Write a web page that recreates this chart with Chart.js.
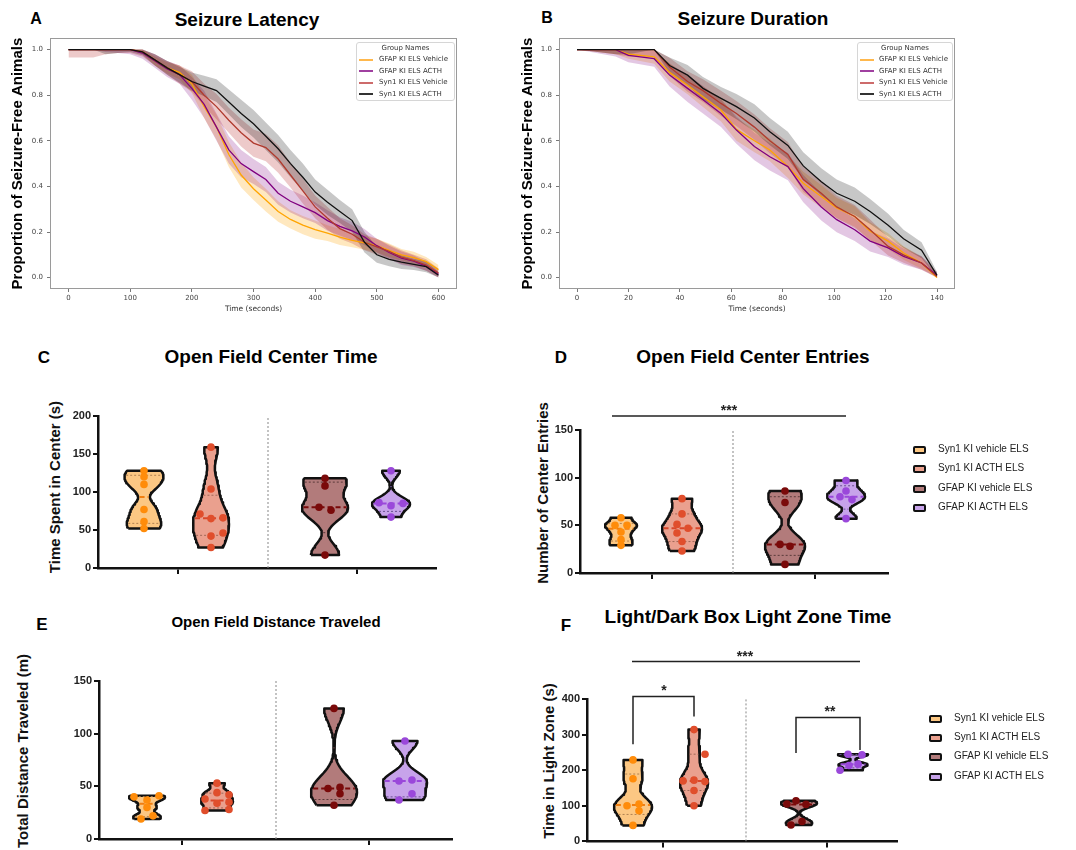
<!DOCTYPE html>
<html>
<head>
<meta charset="utf-8">
<title>Seizure and behaviour panels</title>
<script src="https://cdn.jsdelivr.net/npm/chart.js@4.4.1/dist/chart.umd.min.js"></script>
<style>
html,body{margin:0;padding:0;background:#fff;}
body{width:1076px;height:850px;position:relative;overflow:hidden;font-family:'Liberation Sans',Arial,sans-serif;}
canvas{position:absolute;}
.tx{position:absolute;transform:translate(-50%,-50%);white-space:nowrap;line-height:1;font-weight:bold;color:#000;}
.yl{position:absolute;transform:translate(-50%,-50%) rotate(-90deg);white-space:nowrap;line-height:1;font-weight:bold;color:#111;font-size:15px;}
.slg{position:absolute;background:#fff;border:1px solid #d6d6d6;border-radius:3px;font-family:'DejaVu Sans',sans-serif;font-size:7px;color:#333;}
.slg div{position:absolute;white-space:nowrap;line-height:1;}
.slg .ln{height:2px;width:14px;}
.vlg{position:absolute;font-family:'Liberation Sans',Arial,sans-serif;font-size:10px;color:#222;}
.vlg div{position:absolute;white-space:nowrap;line-height:1;}
.vlg .bx{width:9px;height:4px;border:2px solid #111;border-radius:2px;}
</style>
</head>
<body>
<div class="tx" style="left:36px;top:19px;font-size:16px">A</div>
<div class="tx" style="left:247px;top:19px;font-size:19px">Seizure Latency</div>
<div class="tx" style="left:547px;top:18px;font-size:16px">B</div>
<div class="tx" style="left:753px;top:18px;font-size:19px">Seizure Duration</div>
<div class="tx" style="left:44px;top:357px;font-size:17px">C</div>
<div class="tx" style="left:271px;top:356px;font-size:19px">Open Field Center Time</div>
<div class="tx" style="left:561px;top:357px;font-size:17px">D</div>
<div class="tx" style="left:753px;top:356px;font-size:19px">Open Field Center Entries</div>
<div class="tx" style="left:42px;top:624px;font-size:17px">E</div>
<div class="tx" style="left:276px;top:621px;font-size:15px">Open Field Distance Traveled</div>
<div class="tx" style="left:566px;top:625px;font-size:17px">F</div>
<div class="tx" style="left:748px;top:616px;font-size:19px">Light/Dark Box Light Zone Time</div>

<div class="yl" style="left:54px;top:487px">Time Spent in Center (s)</div>
<div class="yl" style="left:542px;top:493px">Number of Center Entries</div>
<div class="yl" style="left:22px;top:751px">Total Distance Traveled (m)</div>
<div class="yl" style="left:548px;top:761px">Time in Light Zone (s)</div>

<canvas id="cA" width="470" height="290" style="left:0;top:30px"></canvas>
<canvas id="cB" width="445" height="290" style="left:515px;top:30px"></canvas>
<canvas id="cC" width="520" height="190" style="left:0;top:400px"></canvas>
<canvas id="cD" width="556" height="190" style="left:520px;top:400px"></canvas>
<canvas id="cE" width="520" height="190" style="left:0;top:660px"></canvas>
<canvas id="cF" width="556" height="210" style="left:520px;top:640px"></canvas>

<div id="lgA" class="slg" style="left:356px;top:42px;width:97px;height:57px"></div>
<div id="lgB" class="slg" style="left:857px;top:42px;width:94px;height:57px"></div>
<div id="lgD" class="vlg" style="left:913px;top:443px;width:160px;height:80px"></div>
<div id="lgF" class="vlg" style="left:929px;top:712px;width:147px;height:80px"></div>

<script>
// ---------------- DATA ----------------
// Survival panels (A, B)
const survNames = ['GFAP KI ELS Vehicle','GFAP KI ELS ACTH','Syn1 KI ELS Vehicle','Syn1 KI ELS ACTH'];

const latTime    = [0,20,40,60,80,100,120,140,160,180,200,220,240,260,280,300,320,340,360,380,400,420,440,460,480,500,520,540,560,580,600];
const latGfapVeh = [1,1,1,1,1,1,0.99,0.95,0.92,0.90,0.85,0.75,0.66,0.54,0.45,0.39,0.34,0.29,0.255,0.23,0.21,0.195,0.178,0.163,0.152,0.14,0.12,0.10,0.088,0.07,0.035];
const latGfapAct = [1,1,1,1,1,1,0.985,0.95,0.915,0.89,0.83,0.76,0.66,0.56,0.50,0.465,0.43,0.37,0.335,0.31,0.285,0.25,0.225,0.205,0.178,0.14,0.11,0.085,0.072,0.05,0.015];
const latSynVeh  = [1,1,1,1,1,1,0.99,0.955,0.92,0.89,0.86,0.80,0.75,0.69,0.635,0.59,0.57,0.52,0.45,0.38,0.31,0.26,0.215,0.19,0.155,0.135,0.115,0.09,0.075,0.055,0.02];
const latSynAct  = [1,1,1,1,1,1,0.99,0.955,0.92,0.89,0.86,0.84,0.82,0.77,0.72,0.675,0.62,0.565,0.50,0.44,0.375,0.33,0.29,0.25,0.155,0.10,0.08,0.068,0.058,0.048,0.01];
// half width of the confidence band
const latCiGfapVeh = [0,0,0,0,0,0,0.01,0.02,0.025,0.03,0.04,0.05,0.055,0.055,0.055,0.05,0.05,0.045,0.04,0.04,0.04,0.035,0.035,0.03,0.03,0.03,0.03,0.025,0.025,0.02,0.02];
const latCiGfapAct = [0,0,0,0.01,0.015,0.02,0.025,0.03,0.035,0.04,0.05,0.06,0.06,0.06,0.06,0.055,0.055,0.05,0.05,0.05,0.045,0.045,0.04,0.04,0.035,0.03,0.03,0.03,0.025,0.02,0.02];
const latCiSynVeh  = [0.035,0.035,0.035,0.02,0.015,0.015,0.02,0.025,0.03,0.04,0.045,0.05,0.055,0.055,0.06,0.06,0.06,0.06,0.055,0.055,0.05,0.05,0.045,0.04,0.035,0.035,0.03,0.03,0.025,0.025,0.02];
const latCiSynAct  = [0,0,0,0.02,0.015,0.01,0.015,0.025,0.03,0.035,0.04,0.045,0.05,0.055,0.06,0.06,0.06,0.06,0.06,0.06,0.055,0.055,0.05,0.05,0.045,0.035,0.03,0.03,0.025,0.025,0.015];
const latXTicks = [0,100,200,300,400,500,600];

const durTime    = [0,15,20,30,36,43,49,56,62,69,75,82,88,95,101,108,114,121,127,134,140];
const durGfapVeh = [1,1,0.98,0.968,0.90,0.844,0.793,0.735,0.65,0.60,0.56,0.487,0.414,0.356,0.305,0.268,0.203,0.16,0.108,0.064,0.0];
const durGfapAct = [1,1,0.975,0.96,0.888,0.83,0.78,0.72,0.647,0.575,0.53,0.487,0.39,0.31,0.254,0.21,0.16,0.13,0.093,0.064,0.01];
const durSynVeh  = [1,1,1,1,0.924,0.86,0.82,0.764,0.72,0.66,0.60,0.54,0.43,0.37,0.31,0.268,0.21,0.137,0.10,0.064,0.005];
const durSynAct  = [1,1,1,1,0.93,0.888,0.83,0.786,0.75,0.70,0.64,0.58,0.49,0.42,0.37,0.335,0.29,0.23,0.17,0.12,0.01];
const durCiGfapVeh = [0,0.02,0.02,0.03,0.04,0.04,0.045,0.05,0.05,0.05,0.05,0.05,0.05,0.05,0.045,0.045,0.04,0.035,0.03,0.025,0.01];
const durCiGfapAct = [0,0.03,0.03,0.035,0.05,0.06,0.06,0.06,0.06,0.06,0.06,0.06,0.06,0.06,0.055,0.05,0.045,0.04,0.035,0.03,0.015];
const durCiSynVeh  = [0,0.02,0.03,0.03,0.04,0.045,0.05,0.055,0.055,0.055,0.055,0.055,0.055,0.055,0.05,0.05,0.045,0.04,0.035,0.03,0.015];
const durCiSynAct  = [0,0.02,0.02,0,0.035,0.045,0.05,0.05,0.055,0.06,0.06,0.06,0.06,0.06,0.06,0.06,0.055,0.05,0.04,0.035,0.015];
const durXTicks = [0,20,40,60,80,100,120,140];
const survYTicks = [0,0.2,0.4,0.6,0.8,1.0];

// Violin panels (C-F)
const groupNames = ['Syn1 KI vehicle ELS','Syn1 KI ACTH ELS','GFAP KI vehicle ELS','GFAP KI ACTH ELS'];

const cSynVeh  = [128,120,110,77,61,52];
const cSynAct  = [159,104,71,66,65,46,42,27];
const cGfapVeh = [118,108,80,76,17];
const cGfapAct = [128,86,82,85,67];
const cYTicks  = [0,50,100,150,200];

const dSynVeh  = [58,50,50,43,35,29];
const dSynAct  = [78,62,51,47,42,33,23];
const dGfapVeh = [86,74,30,28,9];
const dGfapAct = [97,86,80,77,57];
const dYTicks  = [0,50,100,150];

const eSynVeh  = [40,41,37,30,22,19];
const eSynAct  = [53,44,38,42,34,35,27,28];
const eGfapVeh = [124,48,49,43,32];
const eGfapAct = [93,55,56,43,37];
const eYTicks  = [0,50,100,150];

const fSynVeh  = [229,176,100,105,86,45];
const fSynAct  = [314,245,170,172,168,143,100];
const fGfapVeh = [105,114,104,56,46];
const fGfapAct = [245,243,217,213,200];
const fYTicks  = [0,100,200,300,400];

// ---------------- LAYOUT / STYLE ----------------
const survLine = ['#FFA500','#800080','#B03A2E','#111111'];
const survBand = ['rgba(255,165,0,0.25)','rgba(128,0,128,0.22)','rgba(178,34,34,0.24)','rgba(0,0,0,0.22)'];
const survLegendLine = ['#FFB84D','#A040A0','#CD6B6B','#333333'];

const vFill  = ['#FCC783','#EAA08E','#B27B7B','#C7A3EA'];
const vPoint = ['#FF8C0A','#E04E2C','#7A0A0A','#9A48DA'];
const vMed   = ['#F07E10','#D9472A','#7A0A0A','#9A48DA'];
const vQuart = ['#B08050','#A06858','#5a3a3a','#6a5090'];

// per-panel layout: x in pixels from the y axis
const layC = {centers:[46,113,227,293], ticks:[80,259], divider:170, halfW:[19.5,18,23,19],
  jit:[[0,0,0,0,0,0],[0,0,-11,12,0,12,0,0],[0,0,-6,6,0],[0,-12,0,12,0]]};
const layD = {centers:[41,102,205,266], ticks:[72,235], divider:153, halfW:[16,20,20,19],
  jit:[[0,-6,6,0,0,0],[0,0,-5,6,-5,0,0],[0,0,-5,5,0],[0,0,-6,6,0]]};
const layE = {centers:[48,118,235,306], ticks:[83,270], divider:177, halfW:[18,16,23,22],
  jit:[[-13,12,0,0,6,-6],[0,0,-12,12,0,12,-12,12],[0,-6,6,6,0],[0,-6,7,7,-6]]};
const layF = {centers:[46,107,212,266], ticks:[76,240], divider:159, halfW:[19,14,18,15],
  jit:[[0,0,-6,6,6,0],[0,11,-11,0,11,0,0],[-12,-3,7,3,-8],[-5,9,5,-4,-13]]};

// ---------------- PLUGINS ----------------
const framePlugin = {id:'frame', afterDatasetsDraw(chart){
  const {ctx, chartArea:a} = chart; ctx.save(); ctx.strokeStyle='#9a9a9a'; ctx.lineWidth=1;
  ctx.strokeRect(Math.round(a.left)+0.5, Math.round(a.top)+0.5, Math.round(a.right-a.left)-1, Math.round(a.bottom-a.top)-1);
  ctx.restore(); }};
const starPlugin = {id:'stars', afterDatasetsDraw(chart, args, opts){
  const items = opts.items || []; const {ctx} = chart; const xs = chart.scales.x, ys = chart.scales.y;
  ctx.save(); ctx.fillStyle='#222'; ctx.font='bold 14px "Liberation Sans", Arial'; ctx.textAlign='center'; ctx.textBaseline='alphabetic';
  items.forEach(it => ctx.fillText(it.text, xs.getPixelForValue(it.x), ys.getPixelForValue(it.y)));
  ctx.restore(); }};

// ---------------- SURVIVAL CHARTS ----------------
function survChart(id, times, series, cis, xMin, xMax, xTicks, yWidth, yPad, padR){
  const ds = [];
  series.forEach((vals,i) => {
    ds.push({data: times.map((t,k)=>({x:t, y:Math.min(1, vals[k]+cis[i][k])})), borderWidth:0, pointRadius:0, fill:false, order:30-i});
    ds.push({data: times.map((t,k)=>({x:t, y:Math.max(0, vals[k]-cis[i][k])})), borderWidth:0, pointRadius:0, fill:'-1', backgroundColor:survBand[i], order:30-i});
  });
  series.forEach((vals,i) => {
    ds.push({data: times.map((t,k)=>({x:t, y:vals[k]})), borderColor:survLine[i], borderWidth:1.3, pointRadius:0, fill:false, tension:0, order:10-i});
  });
  return new Chart(document.getElementById(id), {
    type:'line', data:{datasets:ds}, plugins:[framePlugin],
    options:{responsive:false, animation:false, events:[],
      layout:{padding:{left:0, top:8, right:padR, bottom:0}},
      plugins:{legend:{display:false}, tooltip:{enabled:false}},
      scales:{
        x:{type:'linear', min:xMin, max:xMax, afterBuildTicks:s=>{s.ticks=xTicks.map(v=>({value:v}));},
           afterFit:s=>{s.height=31;}, border:{display:false},
           grid:{drawOnChartArea:false, tickLength:3, color:'#777', lineWidth:1},
           ticks:{padding:2, color:'#444', font:{family:'DejaVu Sans', size:7}, callback:v=>String(v), maxRotation:0},
           title:{display:true, text:'Time (seconds)', color:'#333', font:{family:'DejaVu Sans', size:7.5}, padding:{top:0,bottom:6}}},
        y:{type:'linear', min:-0.05, max:1.05, afterBuildTicks:s=>{s.ticks=survYTicks.map(v=>({value:v}));},
           afterFit:s=>{s.width=yWidth;}, border:{display:false},
           grid:{drawOnChartArea:false, tickLength:3, color:'#777', lineWidth:1},
           ticks:{padding:4, color:'#444', font:{family:'DejaVu Sans', size:7}, callback:v=>Number(v).toFixed(1)},
           title:{display:true, text:'Proportion of Seizure-Free Animals', color:'#000', font:{family:'Liberation Sans', size:15, weight:'bold'}, padding:{top:yPad,bottom:0}}}
      }}
  });
}
survChart('cA', latTime, [latGfapVeh,latGfapAct,latSynVeh,latSynAct], [latCiGfapVeh,latCiGfapAct,latCiSynVeh,latCiSynAct], -30, 630, latXTicks, 50, 9, 13);
survChart('cB', durTime, [durGfapVeh,durGfapAct,durSynVeh,durSynAct], [durCiGfapVeh,durCiGfapAct,durCiSynVeh,durCiSynAct], -7, 147, durXTicks, 44, 4, 5);

function survLegend(id, lineX, textX){
  const el = document.getElementById(id);
  let h = '<div style="left:0;width:100%;text-align:center;top:2px">Group Names</div>';
  survNames.forEach((n,i)=>{
    const y = 14 + i*11.5;
    h += `<div class="ln" style="left:${lineX}px;top:${y+1.5}px;background:${survLegendLine[i]}"></div>`;
    h += `<div style="left:${textX}px;top:${y-1}px">${n}</div>`;
  });
  el.innerHTML = h;
}
survLegend('lgA', 2, 22);
survLegend('lgB', 2, 21);

// ---------------- VIOLIN CHARTS ----------------
function quant(s, p){ const n=s.length, pos=(n+1)*p; if(pos<=1) return s[0]; if(pos>=n) return s[n-1];
  const lo=Math.floor(pos); return s[lo-1]+(pos-lo)*(s[lo]-s[lo-1]); }
function violin(vals, c, halfW){
  const s=[...vals].sort((a,b)=>a-b); const lo=s[0], hi=s[s.length-1]; const h=0.12*(hi-lo||1);
  const dens = y => s.reduce((a,v)=>a+Math.exp(-0.5*((y-v)/h)**2),0);
  const N=60, ys=[]; for(let i=0;i<=N;i++) ys.push(lo+(hi-lo)*i/N);
  const dmax=Math.max(...ys.map(dens));
  const w = y => halfW*Math.pow(dens(y)/dmax,0.7);
  const left = ys.map(y=>({x:c-w(y), y}));
  const right = ys.map(y=>({x:c+w(y), y})).reverse();
  return {poly:[...left,...right,left[0]], w, s};
}
function violinChart(id, groups, lay, yMax, yTicks, geom, extras, stars){
  const ds=[];
  ds.push({data:[{x:lay.divider,y:0},{x:lay.divider,y:yMax}], borderColor:'#888', borderWidth:1, borderDash:[2,2], pointRadius:0, fill:false, order:9});
  groups.forEach((vals,g)=>{
    const c=lay.centers[g]; const v=violin(vals,c,lay.halfW[g]);
    ds.push({data:v.poly, fill:'shape', backgroundColor:vFill[g], borderColor:'#111', borderWidth:2.5, borderJoinStyle:'round', pointRadius:0, tension:0, order:8});
    [quant(v.s,0.25), quant(v.s,0.75)].forEach(q=>{
      const ww=Math.max(v.w(q)-1.5,1);
      ds.push({data:[{x:c-ww,y:q},{x:c+ww,y:q}], borderColor:vQuart[g], borderWidth:1, borderDash:[2,2], pointRadius:0, fill:false, order:5});
    });
    const m=quant(v.s,0.5), mw=Math.max(v.w(m)-1.5,1);
    ds.push({data:[{x:c-mw,y:m},{x:c+mw,y:m}], borderColor:vMed[g], borderWidth:2, borderDash:[5,3], pointRadius:0, fill:false, order:4});
    ds.push({data:vals.map((y,k)=>({x:c+lay.jit[g][k], y})), showLine:false, pointRadius:3.8, pointBackgroundColor:vPoint[g], pointBorderWidth:0, order:1});
  });
  (extras||[]).forEach(pts=>ds.push({data:pts, borderColor:'#222', borderWidth:1.5, pointRadius:0, fill:false, clip:false, order:2}));
  return new Chart(document.getElementById(id), {
    type:'line', data:{datasets:ds}, plugins:[starPlugin],
    options:{responsive:false, animation:false, events:[],
      layout:{padding:{left:0, top:geom.padT, right:geom.padR, bottom:0}},
      plugins:{legend:{display:false}, tooltip:{enabled:false}, stars:{items:stars||[]}},
      scales:{
        x:{type:'linear', min:0, max:geom.right, afterBuildTicks:s=>{s.ticks=lay.ticks.map(v=>({value:v}));},
           afterFit:s=>{s.height=geom.xH;}, border:{display:true, color:'#111', width:2.5},
           grid:{drawOnChartArea:false, tickLength:6, color:'#111', lineWidth:2},
           ticks:{callback:()=>'', padding:0}},
        y:{type:'linear', min:0, max:yMax, afterBuildTicks:s=>{s.ticks=yTicks.map(v=>({value:v}));},
           afterFit:s=>{s.width=geom.yW;}, border:{display:true, color:'#111', width:2.5},
           grid:{drawOnChartArea:false, tickLength:5, color:'#111', lineWidth:2},
           ticks:{padding:2, color:'#222', font:{family:'Liberation Sans', size:11, weight:'bold'}}}
      }}
  });
}

violinChart('cC', [cSynVeh,cSynAct,cGfapVeh,cGfapAct], layC, 200, cYTicks,
  {padT:16, padR:84, yW:98, xH:22, right:338}, [], []);
violinChart('cD', [dSynVeh,dSynAct,dGfapVeh,dGfapAct], layD, 150, dYTicks,
  {padT:30, padR:188, yW:60, xH:17, right:308},
  [[{x:32,y:164.7},{x:266,y:164.7}]],
  [{x:149,y:166,text:'***'}]);
violinChart('cE', [eSynVeh,eSynAct,eGfapVeh,eGfapAct], layE, 150, eYTicks,
  {padT:21, padR:68, yW:99, xH:11, right:353}, [], []);
violinChart('cF', [fSynVeh,fSynAct,fGfapVeh,fGfapAct], layF, 400, fYTicks,
  {padT:59, padR:179, yW:67, xH:8, right:310},
  [[{x:45,y:505},{x:273,y:505}],
   [{x:46,y:273},{x:46,y:407},{x:107,y:407},{x:107,y:351}],
   [{x:209,y:248},{x:209,y:348},{x:273,y:348},{x:273,y:257}]],
  [{x:158,y:507,text:'***'},{x:77,y:412,text:'*'},{x:243,y:352,text:'**'}]);

function violinLegend(id, step){
  const el=document.getElementById(id); let h='';
  groupNames.forEach((n,i)=>{
    const y=i*step;
    h += `<div class="bx" style="left:0;top:${y+3}px;background:${vFill[i]}"></div>`;
    h += `<div style="left:25px;top:${y+1}px">${n}</div>`;
  });
  el.innerHTML=h;
}
violinLegend('lgD', 19.3);
violinLegend('lgF', 19.2);
</script>
</body>
</html>
